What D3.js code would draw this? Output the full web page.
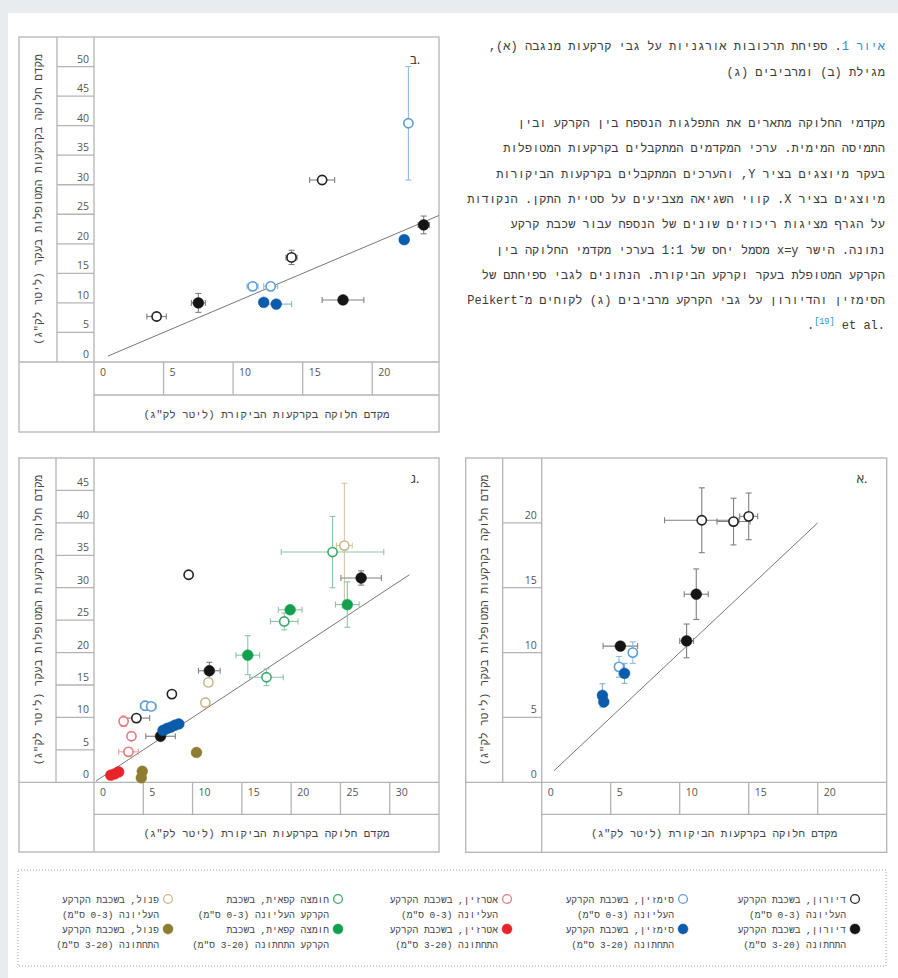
<!DOCTYPE html>
<html>
<head>
<meta charset="utf-8">
<script src="https://cdn.jsdelivr.net/npm/d3@7/dist/d3.min.js"></script>
<style>
  html, body { margin: 0; padding: 0; background: #e8ecef; }
  svg { display: block; }
</style>
</head>
<body>
<svg id="chart" width="898" height="978"></svg>
<script>
// ---------------- DATA ----------------
// each point: [x, y, xErr, yErr]
// Panel א (Negba)
const negbaDiuronUpper   = [[11.6, 20.2, 2.7, 2.5], [13.9, 20.1, 1.2, 1.8], [15.0, 20.5, 0.65, 1.8]];
const negbaDiuronLower   = [[11.2, 14.5, 0.87, 1.95], [10.5, 10.9, 0.5, 1.3], [5.7, 10.5, 1.25, 0.3]];
const negbaSimazineUpper = [[6.6, 10.0, 0.3, 0.83], [5.6, 8.9, 0.3, 0.8]];
const negbaSimazineLower = [[6.0, 8.4, 0.3, 0.77], [4.4, 6.7, 0.2, 0.9], [4.5, 6.2, 0.2, 0.3]];
// Panel ב (Gilat)
const gilatDiuronUpper   = [[4.5, 7.7, 0.7, 0.5], [14.2, 17.7, 0.4, 1.2], [16.4, 30.8, 0.9, 0.7]];
const gilatDiuronLower   = [[7.5, 10.0, 0.5, 1.6], [17.9, 10.5, 1.5, 0.4], [23.7, 23.2, 0.4, 1.5]];
const gilatSimazineUpper = [[11.4, 12.8, 0.4, 0.4], [12.7, 12.8, 0.5, 0.4], [22.6, 40.4, 0.3, 9.6]];
const gilatSimazineLower = [[12.2, 10.1, 0.3, 0.3], [13.1, 9.8, 1.1, 0.3], [22.3, 20.7, 0.3, 0.6]];
// Panel ג (Revivim)
const revivimDiuronUpper   = [[9.6, 32.0, 0.3, 0.5], [7.9, 13.6, 0.3, 0.4], [4.3, 9.9, 1.35, 0.4]];
const revivimDiuronLower   = [[27.1, 31.5, 2.05, 1.1], [11.7, 17.2, 1.1, 1.3], [6.75, 7.1, 1.5, 0.4]];
const revivimSimazineUpper = [[5.2, 11.8, 0.5, 0.7], [5.8, 11.7, 0.5, 0.5]];
const revivimSimazineLower = [[7.0, 8.0, 0.3, 0.3], [7.4, 8.3, 0.3, 0.3], [7.8, 8.5, 0.3, 0.3], [8.2, 8.8, 0.3, 0.3], [8.6, 9.0, 0.5, 0.5]];
const revivimAtrazineUpper = [[3.0, 9.4, 0.4, 0.8], [3.8, 7.1, 0.3, 0.5], [3.5, 4.7, 1.0, 0.6]];
const revivimAtrazineLower = [[1.7, 1.1, 0.2, 0.2], [2.1, 1.3, 0.2, 0.2], [2.5, 1.6, 0.2, 0.2]];
const revivimCaffeicUpper  = [[24.2, 35.5, 5.2, 5.5], [19.3, 24.8, 1.4, 1.3], [17.5, 16.2, 1.7, 1.3]];
const revivimCaffeicLower  = [[19.9, 26.6, 1.2, 0.5], [25.7, 27.4, 1.2, 3.5], [15.6, 19.6, 1.2, 3.0]];
const revivimPhenolUpper   = [[25.4, 36.5, 0.8, 9.6], [11.6, 15.4, 0.4, 0.5], [11.3, 12.3, 0.3, 0.4]];
const revivimPhenolLower   = [[10.4, 4.6, 0.3, 0.3], [4.9, 1.7, 0.2, 0.3], [4.8, 0.7, 0.2, 0.3]];

// tick values
const negbaXTicks = [0, 5, 10, 15, 20];
const negbaYTicks = [0, 5, 10, 15, 20];
const gilatXTicks = [0, 5, 10, 15, 20];
const gilatYTicks = [0, 5, 10, 15, 20, 25, 30, 35, 40, 45, 50];
const revivimXTicks = [0, 5, 10, 15, 20, 25, 30];
const revivimYTicks = [0, 5, 10, 15, 20, 25, 30, 35, 40, 45];

// 1:1 line extents
const negbaLine = [0.9, 20];
const gilatLine = [1, 24.8];
const revivimLine = [0.2, 32];

// texts
const xTitle = "מקדם חלוקה בקרקעות הביקורת (ליטר לק\"ג)";
const yTitle = "מקדם חלוקה בקרקעות המטופלות בעקר (ליטר לק\"ג)";
const panelLabels = ["א.", "ב.", "ג."];
const captionTitle1a = "איור 1";
const captionTitle1b = ". ספיחת תרכובות אורגניות על גבי קרקעות מנגבה (א),";
const captionTitle2 = "מגילת (ב) ומרביבים (ג)";
const captionLines = [
  "מקדמי החלוקה מתארים את התפלגות הנספח בין הקרקע ובין",
  "התמיסה המימית. ערכי המקדמים המתקבלים בקרקעות המטופלות",
  "בעקר מיוצגים בציר Y, והערכים המתקבלים בקרקעות הביקורות",
  "מיוצגים בציר X. קווי השגיאה מצביעים על סטיית התקן. הנקודות",
  "על הגרף מציגות ריכוזים שונים של הנספח עבור שכבת קרקע",
  "נתונה. הישר x=y מסמל יחס של 1:1 בערכי מקדמי החלוקה בין",
  "הקרקע המטופלת בעקר וקרקע הביקורת. הנתונים לגבי ספיחתם של",
  "הסימזין והדיורון על גבי הקרקע מרביבים (ג) לקוחים מ־Peikert"
];
const captionLast = ["et al.", "[19]", "."];

const legendNames = [
  ["דיורון, בשכבת הקרקע", "העליונה (0-3 ס\"מ)", "דיורון, בשכבת הקרקע", "התחתונה (3-20 ס\"מ)"],
  ["סימזין, בשכבת הקרקע", "העליונה (0-3 ס\"מ)", "סימזין, בשכבת הקרקע", "התחתונה (3-20 ס\"מ)"],
  ["אטרזין, בשכבת הקרקע", "העליונה (0-3 ס\"מ)", "אטרזין, בשכבת הקרקע", "התחתונה (3-20 ס\"מ)"],
  ["חומצה קפאית, בשכבת", "הקרקע העליונה (0-3 ס\"מ)", "חומצה קפאית, בשכבת", "הקרקע התחתונה (3-20 ס\"מ)"],
  ["פנול, בשכבת הקרקע", "העליונה (0-3 ס\"מ)", "פנול, בשכבת הקרקע", "התחתונה (3-20 ס\"מ)"]
];

// ---------------- STYLES ----------------
const styles = {
  diuronU:   {open: true,  color: "#222222", err: "#808080"},
  diuronL:   {open: false, color: "#151515", err: "#808080"},
  simU:      {open: true,  color: "#5b9fd6", err: "#8fbde3"},
  simL:      {open: false, color: "#0b5cab", err: "#7fb2de"},
  atrU:      {open: true,  color: "#e17a7d", err: "#e9a3a5"},
  atrL:      {open: false, color: "#e8242a", err: "#ec8a8d"},
  cafU:      {open: true,  color: "#3aa86c", err: "#8fc3a6"},
  cafL:      {open: false, color: "#12a04e", err: "#8fc3a6"},
  phenU:     {open: true,  color: "#c9b98a", err: "#d3c7a1"},
  phenL:     {open: false, color: "#8e7c30", err: "#b7a976"}
};
const legendStyles = [["diuronU", "diuronL"], ["simU", "simL"], ["atrU", "atrL"], ["cafU", "cafL"], ["phenU", "phenL"]];

const MONO = "'Liberation Mono', 'DejaVu Sans Mono', monospace";
const SANS = "'Open Sans', 'Liberation Sans', sans-serif";
const LINE = "#b4b4b4";

const svg = d3.select("#chart");
svg.append("rect").attr("x", 8).attr("y", 13).attr("width", 890).attr("height", 965).attr("fill", "#ffffff");

function drawPanel(cfg) {
  const g = svg.append("g");
  const x = d3.scaleLinear().domain(cfg.xDomain).range([cfg.plotLeft, cfg.x1]);
  const y = d3.scaleLinear().domain(cfg.yDomain).range([cfg.axisY, cfg.y0]);

  // frame
  const frame = g.append("g").attr("stroke", LINE).attr("stroke-width", 1.3).attr("fill", "none");
  frame.append("rect").attr("x", cfg.x0).attr("y", cfg.y0).attr("width", cfg.x1 - cfg.x0).attr("height", cfg.y1 - cfg.y0);
  frame.append("line").attr("x1", cfg.colRight).attr("x2", cfg.colRight).attr("y1", cfg.y0).attr("y2", cfg.axisY);
  frame.append("line").attr("x1", cfg.plotLeft).attr("x2", cfg.plotLeft).attr("y1", cfg.y0).attr("y2", cfg.y1);
  frame.append("line").attr("x1", cfg.x0).attr("x2", cfg.x1).attr("y1", cfg.axisY).attr("y2", cfg.axisY);
  frame.append("line").attr("x1", cfg.plotLeft).attr("x2", cfg.x1).attr("y1", cfg.tickBottom).attr("y2", cfg.tickBottom);

  // y ticks: lines in tick column, labels above each line
  cfg.yTicks.forEach(t => {
    if (t > 0) {
      frame.append("line").attr("x1", cfg.colRight).attr("x2", cfg.plotLeft).attr("y1", y(t)).attr("y2", y(t));
    }
    g.append("text").attr("x", cfg.plotLeft - 5).attr("y", y(t) - 4)
      .attr("text-anchor", "end").attr("font-family", SANS).attr("font-size", 10.5).attr("fill", "#555")
      .text(t);
  });
  // x ticks: lines in tick row, labels right of each line
  cfg.xTicks.forEach(t => {
    if (t > 0) {
      frame.append("line").attr("x1", x(t)).attr("x2", x(t)).attr("y1", cfg.axisY).attr("y2", cfg.tickBottom);
    }
    g.append("text").attr("x", x(t) + 6).attr("y", cfg.axisY + 14)
      .attr("text-anchor", "start").attr("font-family", SANS).attr("font-size", 10.5).attr("fill", "#555")
      .text(t);
  });

  // axis titles
  g.append("text")
    .attr("x", (cfg.plotLeft + cfg.x1) / 2).attr("y", (cfg.tickBottom + cfg.y1) / 2 + 4)
    .attr("direction", "rtl").attr("text-anchor", "middle")
    .attr("font-family", MONO).attr("font-size", 10.8).attr("fill", "#444")
    .text(xTitle);
  const cx = (cfg.x0 + cfg.colRight) / 2, cy = (cfg.y0 + cfg.axisY) / 2;
  g.append("text")
    .attr("transform", `translate(${cx + 4},${cy}) rotate(-90)`)
    .attr("direction", "rtl").attr("text-anchor", "middle")
    .attr("font-family", MONO).attr("font-size", 11).attr("fill", "#444")
    .text(yTitle);

  // 1:1 line
  g.append("line")
    .attr("x1", x(cfg.line[0])).attr("y1", y(cfg.line[0]))
    .attr("x2", x(cfg.line[1])).attr("y2", y(cfg.line[1]))
    .attr("stroke", "#777").attr("stroke-width", 1);

  // panel label (letter, then period on its right)
  g.append("text").attr("x", cfg.labelX).attr("y", cfg.labelY)
    .attr("direction", "ltr").attr("unicode-bidi", "bidi-override")
    .attr("text-anchor", "middle").attr("font-family", SANS).attr("font-size", 13).attr("fill", "#333")
    .text(cfg.label);

  // error bars
  const cap = 3;
  cfg.series.forEach(([data, key]) => {
    const st = styles[key];
    const eb = g.append("g").attr("stroke", st.err).attr("stroke-width", 1.1).attr("fill", "none");
    data.forEach(d => {
      const px = x(d[0]), py = y(d[1]);
      const xl = x(d[0] - d[2]), xr = x(d[0] + d[2]);
      const yt = y(d[1] + d[3]), yb = y(d[1] - d[3]);
      eb.append("line").attr("x1", xl).attr("x2", xr).attr("y1", py).attr("y2", py);
      eb.append("line").attr("x1", xl).attr("x2", xl).attr("y1", py - cap).attr("y2", py + cap);
      eb.append("line").attr("x1", xr).attr("x2", xr).attr("y1", py - cap).attr("y2", py + cap);
      eb.append("line").attr("x1", px).attr("x2", px).attr("y1", yt).attr("y2", yb);
      eb.append("line").attr("x1", px - cap).attr("x2", px + cap).attr("y1", yt).attr("y2", yt);
      eb.append("line").attr("x1", px - cap).attr("x2", px + cap).attr("y1", yb).attr("y2", yb);
    });
  });
  // markers
  cfg.series.forEach(([data, key]) => {
    const st = styles[key];
    g.append("g").selectAll("circle").data(data).join("circle")
      .attr("cx", d => x(d[0])).attr("cy", d => y(d[1]))
      .attr("r", st.open ? 4.6 : 5.4)
      .attr("fill", st.open ? "#ffffff" : st.color)
      .attr("stroke", st.color).attr("stroke-width", st.open ? 1.6 : 0.5);
  });
}

// Panel ב (Gilat) - top left
drawPanel({
  x0: 19, y0: 37, x1: 439, y1: 432, colRight: 57, plotLeft: 94, axisY: 362, tickBottom: 395,
  xDomain: [0, 24.8], yDomain: [0, 55], xTicks: gilatXTicks, yTicks: gilatYTicks, line: gilatLine,
  label: panelLabels[1], labelX: 415, labelY: 64,
  series: [[gilatDiuronUpper, "diuronU"], [gilatDiuronLower, "diuronL"], [gilatSimazineUpper, "simU"], [gilatSimazineLower, "simL"]]
});
// Panel ג (Revivim) - bottom left
drawPanel({
  x0: 19, y0: 458, x1: 439, y1: 852, colRight: 56, plotLeft: 94, axisY: 782.3, tickBottom: 814.3,
  xDomain: [0, 35], yDomain: [0, 50], xTicks: revivimXTicks, yTicks: revivimYTicks, line: revivimLine,
  label: panelLabels[2], labelX: 415, labelY: 483,
  series: [[revivimDiuronUpper, "diuronU"], [revivimSimazineUpper, "simU"], [revivimAtrazineUpper, "atrU"],
           [revivimCaffeicUpper, "cafU"], [revivimPhenolUpper, "phenU"],
           [revivimDiuronLower, "diuronL"], [revivimSimazineLower, "simL"], [revivimAtrazineLower, "atrL"],
           [revivimCaffeicLower, "cafL"], [revivimPhenolLower, "phenL"]]
});
// Panel א (Negba) - bottom right
drawPanel({
  x0: 465.7, y0: 458, x1: 886.7, y1: 852.3, colRight: 502.7, plotLeft: 541.7, axisY: 782.3, tickBottom: 814.3,
  xDomain: [0, 25], yDomain: [0, 25], xTicks: negbaXTicks, yTicks: negbaYTicks, line: negbaLine,
  label: panelLabels[0], labelX: 862, labelY: 483,
  series: [[negbaDiuronUpper, "diuronU"], [negbaDiuronLower, "diuronL"], [negbaSimazineUpper, "simU"], [negbaSimazineLower, "simL"]]
});

// ---------------- CAPTION ----------------
const capX = 885;
const t1 = svg.append("text").attr("x", capX).attr("y", 50)
  .attr("direction", "rtl").attr("text-anchor", "start")
  .attr("font-family", MONO).attr("font-size", 12).attr("fill", "#3a3a3a");
t1.append("tspan").attr("fill", "#2a8fcf").text(captionTitle1a);
t1.append("tspan").text(captionTitle1b);
svg.append("text").attr("x", capX).attr("y", 76)
  .attr("direction", "rtl").attr("text-anchor", "start")
  .attr("font-family", MONO).attr("font-size", 12).attr("fill", "#3a3a3a")
  .text(captionTitle2);
captionLines.forEach((line, i) => {
  svg.append("text").attr("x", capX).attr("y", 127 + i * 25.3)
    .attr("direction", "rtl").attr("text-anchor", "start")
    .attr("font-family", MONO).attr("font-size", 12).attr("fill", "#3a3a3a")
    .text(line);
});
const last = svg.append("text").attr("x", capX).attr("y", 127 + 8 * 25.3)
  .attr("text-anchor", "end").attr("font-family", MONO).attr("font-size", 12).attr("fill", "#3a3a3a");
last.append("tspan").text(captionLast[2]);
last.append("tspan").attr("fill", "#2a8fcf").attr("font-size", 8.5).attr("dy", -5).text(captionLast[1]);
last.append("tspan").attr("dy", 5).text(" " + captionLast[0]);

// ---------------- LEGEND ----------------
svg.append("rect").attr("x", 18).attr("y", 870).attr("width", 868).attr("height", 96)
  .attr("fill", "none").attr("stroke", "#9a9a9a").attr("stroke-width", 1).attr("stroke-dasharray", "1,2");
const legendX = [855, 683, 507, 338, 168];
legendNames.forEach((names, i) => {
  const mx = legendX[i];
  [0, 1].forEach(row => {
    const st = styles[legendStyles[i][row]];
    const my = 899 + row * 30;
    svg.append("circle").attr("cx", mx).attr("cy", my).attr("r", st.open ? 4.4 : 5)
      .attr("fill", st.open ? "#fff" : st.color).attr("stroke", st.color).attr("stroke-width", st.open ? 1.3 : 0.5);
    [0, 1].forEach(k => {
      svg.append("text").attr("x", mx - 9).attr("y", my + 4 + k * 15)
        .attr("direction", "rtl").attr("text-anchor", "start")
        .attr("font-family", MONO).attr("font-size", 9.5).attr("fill", "#444")
        .text(names[row * 2 + k]);
    });
  });
});
</script>
</body>
</html>
